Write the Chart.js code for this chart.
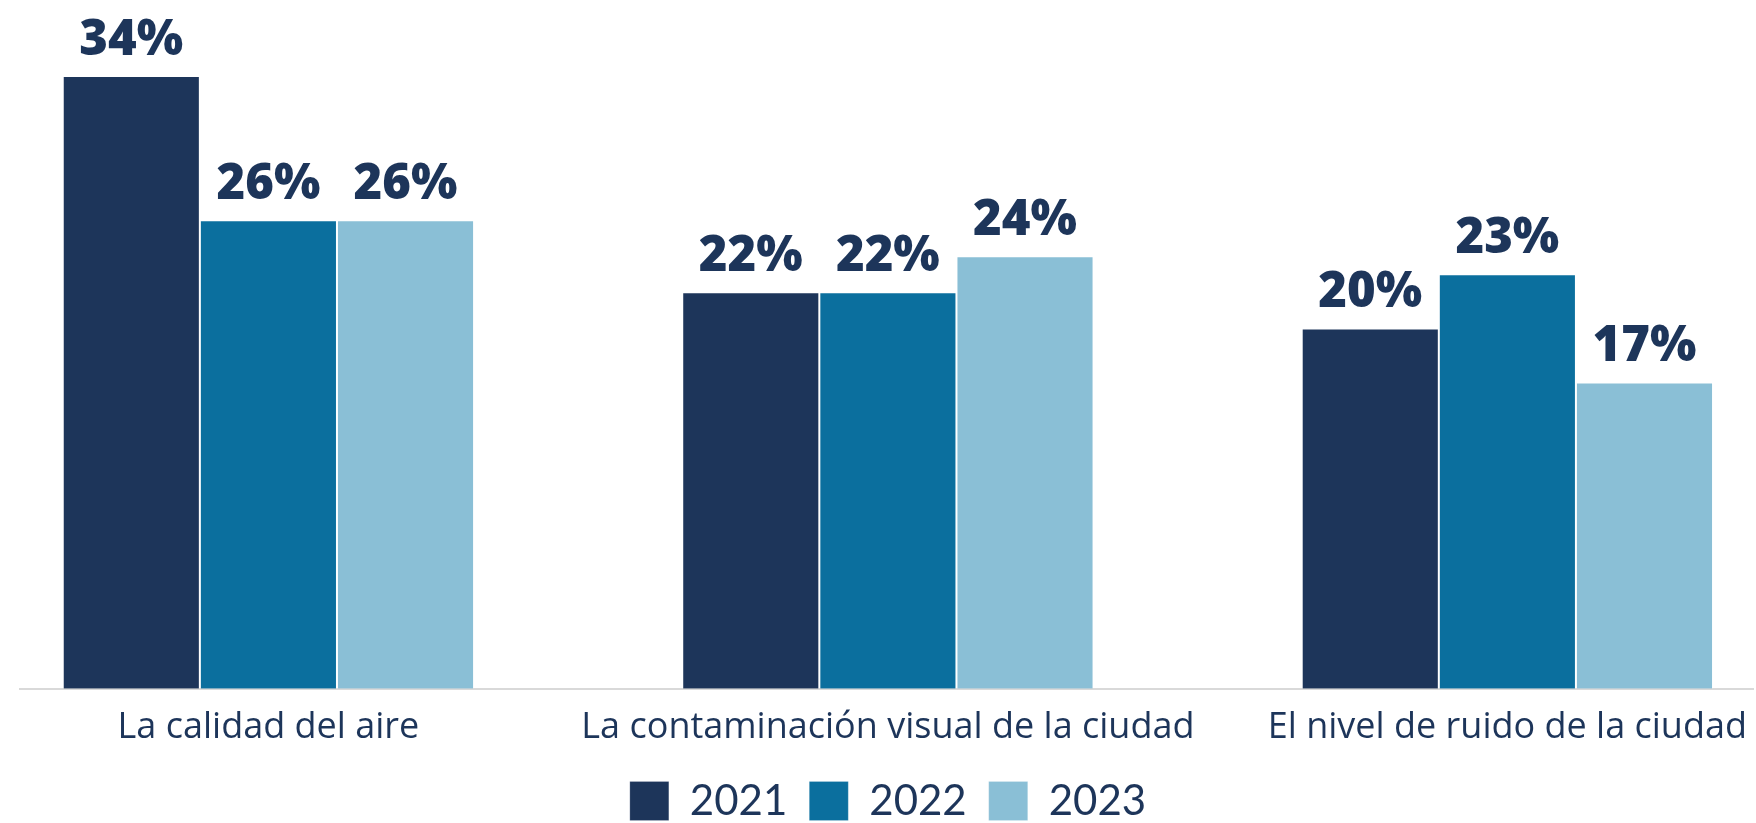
<!DOCTYPE html>
<html>
<head>
<meta charset="utf-8">
<script src="https://cdn.jsdelivr.net/npm/chart.js@4.4.1/dist/chart.umd.min.js"></script>
<style>
  html, body { margin: 0; padding: 0; background: #fff; overflow: hidden; }
  #wrap { position: relative; width: 1756px; height: 832px; }
</style>
</head>
<body>
<div id="wrap"><canvas id="myChart"></canvas></div>
<script>
const categories = ['La calidad del aire', 'La contaminación visual de la ciudad', 'El nivel de ruido de la ciudad'];
const years = ['2021', '2022', '2023'];
const values2021 = [34, 22, 20];
const values2022 = [26, 22, 23];
const values2023 = [26, 24, 17];
const colors = ['#1d355a', '#0b6f9e', '#8abfd6'];

const navy = '#1d355a';

function toPoints(arr) {
    return arr.map(function(v, i) { return {x: i, y: v}; });
}

// labels above each bar
const valueLabels = {
    id: 'valueLabels',
    afterDatasetsDraw: function(chart) {
        const c = chart.ctx;
        c.save();
        c.fillStyle = navy;
        c.font = '800 49px "Open Sans"';
        c.textAlign = 'center';
        c.textBaseline = 'alphabetic';
        chart.data.datasets.forEach(function(ds, di) {
            const meta = chart.getDatasetMeta(di);
            meta.data.forEach(function(bar, i) {
                c.fillText(ds.data[i].y + '%', bar.x, bar.y - 21);
            });
        });
        c.restore();
    }
};

const ctx = document.getElementById('myChart');

var graphData = {
type: 'bar',
data: {
  datasets: [
      {
        label: years[0],
        data: toPoints(values2021),
        backgroundColor: colors[0],
        borderColor: 'rgba(255,255,255,0.2)',
        borderWidth: 1,
      },
      {
        label: years[1],
        data: toPoints(values2022),
        backgroundColor: colors[1],
        borderColor: 'rgba(255,255,255,0.2)',
        borderWidth: 1,
      },
      {
        label: years[2],
        data: toPoints(values2023),
        backgroundColor: colors[2],
        borderColor: 'rgba(255,255,255,0.2)',
        borderWidth: 1,
      },
  ]
},
options: {
    animation: false,
    responsive: true,
    maintainAspectRatio: false,
    categoryPercentage: 0.664,
    barPercentage: 1,
    layout: {
        padding: {left: 20, top: 4, right: 0, bottom: 0}
    },
    plugins: {
        tooltip: {enabled: false},
        legend: {
            position: 'bottom',
            labels: {
                color: navy,
                font: {family: 'Lato', size: 42},
                boxWidth: 39,
                boxHeight: 39,
                padding: 22,
            }
        }
    },
    scales: {
        x: {
            type: 'linear',
            offset: false,
            min: -0.401,
            max: 2.397,
            grid: {display: false, offset: false},
            border: {color: '#d9d9d9', width: 2},
            afterBuildTicks: function(axis) {
                axis.ticks = categories.map(function(c, i) { return {value: i}; });
            },
            ticks: {
                color: navy,
                font: {family: 'Open Sans', size: 36},
                padding: 9,
                maxRotation: 0,
                autoSkip: false,
                callback: function(v) { return categories[v]; }
            }
        },
        y: {
            display: false,
            min: 0,
            max: 38,
        },
    }
},
plugins: [valueLabels]
}

var myChart = new Chart(ctx, graphData);
</script>
</body>
</html>
